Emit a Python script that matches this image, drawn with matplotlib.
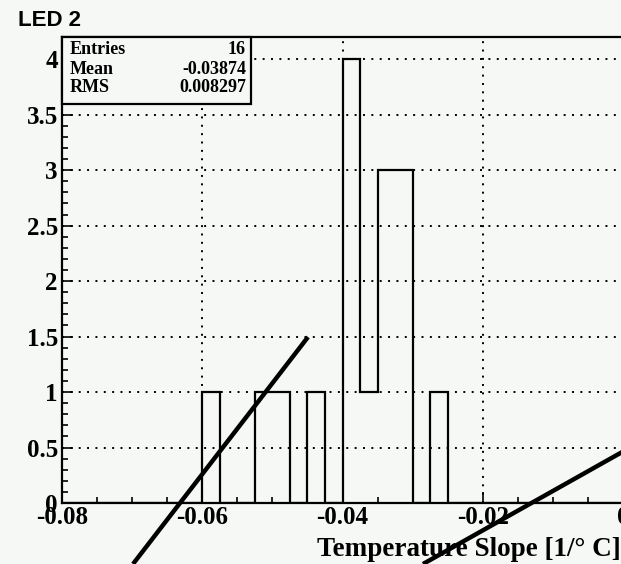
import numpy as np
import matplotlib
matplotlib.use("Agg")
import matplotlib.pyplot as plt
from matplotlib.lines import Line2D
from matplotlib.patches import Rectangle
from matplotlib.ticker import MultipleLocator, FixedLocator

# ---- data ----
bin_edges = np.linspace(-0.08, 0.0, 33)  # 32 bins of width 0.0025
counts = [0, 0, 0, 0, 0, 0, 0, 0,
          1, 0, 0, 1, 1, 0, 1, 0,
          4, 1, 3, 3, 0, 1, 0, 0,
          0, 0, 0, 0, 0, 0, 0, 0]
xticks = [-0.08, -0.06, -0.04, -0.02, 0.0]
xtick_labels = ["-0.08", "-0.06", "-0.04", "-0.02", "0"]
yticks = [0, 0.5, 1, 1.5, 2, 2.5, 3, 3.5, 4]
ytick_labels = ["0", "0.5", "1", "1.5", "2", "2.5", "3", "3.5", "4"]
stats_names = ["Entries", "Mean", "RMS"]
stats_values = ["16", "-0.03874", "0.008297"]
title = "LED 2"
xlabel = "Temperature Slope [1/\u00b0 C]"

bg = "#f5f8f5"
W, H = 621, 564
fig = plt.figure(figsize=(W / 100, H / 100), dpi=100, facecolor=bg)

# axes position in pixels
left_px, right_px, top_px, bot_px = 62, 623, 37, 503
ax = fig.add_axes([left_px / W, 1 - bot_px / H, (right_px - left_px) / W, (bot_px - top_px) / H])
ax.set_facecolor(bg)
ax.set_xlim(-0.08, 0.0)
ax.set_ylim(0, 4.2)

ax.stairs(counts, bin_edges, color="black", linewidth=1.6, fill=False, zorder=3, baseline=0)

ax.xaxis.set_major_locator(FixedLocator(xticks))
ax.set_xticklabels(xtick_labels)
ax.xaxis.set_minor_locator(MultipleLocator(0.005))
ax.yaxis.set_major_locator(FixedLocator(yticks))
ax.set_yticklabels(ytick_labels)
ax.yaxis.set_minor_locator(MultipleLocator(0.1))

ax.grid(True, which="major", color="black", linestyle=(0, (1, 3.3)), linewidth=1.4, zorder=1)
ax.set_axisbelow(True)

ax.tick_params(axis="both", which="major", direction="in", length=8, width=1.2,
               top=False, right=False)
ax.tick_params(axis="both", which="minor", direction="in", length=4.5, width=1.2,
               top=False, right=False)
ax.tick_params(axis="x", which="major", pad=2)
ax.tick_params(axis="y", which="major", pad=3)
for lab in ax.get_xticklabels() + ax.get_yticklabels():
    lab.set_fontfamily("Liberation Serif")
    lab.set_fontweight("bold")
    lab.set_fontsize(18)

for s in ["left", "bottom", "top"]:
    ax.spines[s].set_linewidth(1.6)
ax.spines["right"].set_visible(False)

# stats box
bx0, bx1, by0, by1 = 62, 251, 37, 104
box = Rectangle((bx0 / W, 1 - by1 / H), (bx1 - bx0) / W, (by1 - by0) / H,
                transform=fig.transFigure, facecolor=bg, edgecolor="black",
                linewidth=1.6, zorder=5)
fig.patches.append(box)
rows_y = [50, 69, 88]
for name, val, yy in zip(stats_names, stats_values, rows_y):
    fig.text(70 / W, 1 - yy / H, name, ha="left", va="center", fontsize=13,
             fontfamily="Liberation Serif", fontweight="bold", zorder=6)
    fig.text(246 / W, 1 - yy / H, val, ha="right", va="center", fontsize=13,
             fontfamily="Liberation Serif", fontweight="bold", zorder=6)

# title and x label
fig.text(18 / W, 1 - 21 / H, title, ha="left", va="center", fontsize=16,
         fontfamily="Liberation Sans", fontweight="bold")
fig.text(621 / W, 1 - 549 / H, xlabel, ha="right", va="center", fontsize=19.5,
         fontfamily="Liberation Serif", fontweight="bold")

# diagonal overlay strokes
for (x0, y0), (x1, y1) in [((133, 564), (308, 337)), ((423, 564), (624, 451))]:
    fig.add_artist(Line2D([x0 / W, x1 / W], [1 - y0 / H, 1 - y1 / H],
                          transform=fig.transFigure, color="black", linewidth=3.2,
                          solid_capstyle="butt", zorder=10))

fig.savefig("out.png", dpi=100, facecolor=bg)
